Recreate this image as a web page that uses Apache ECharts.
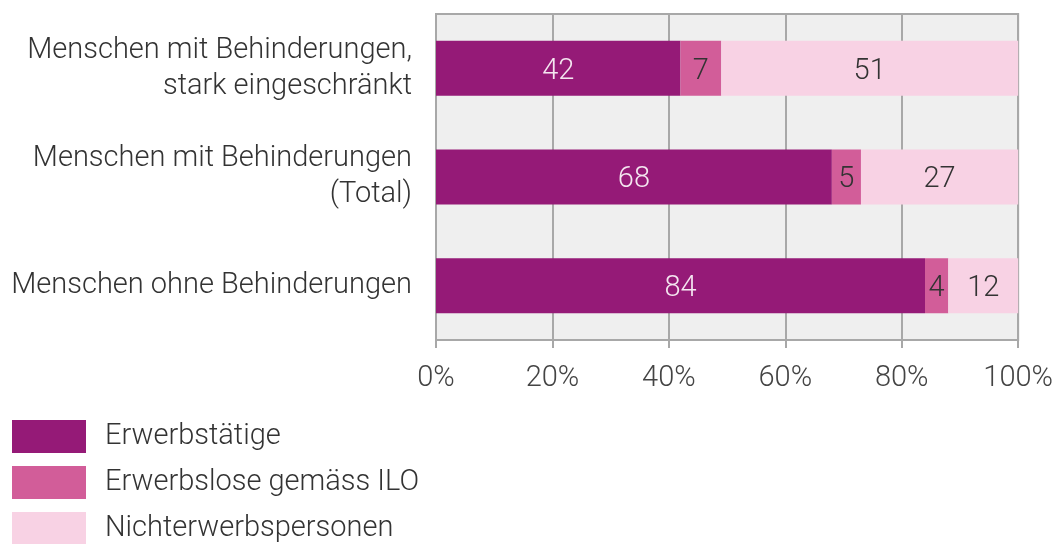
<!DOCTYPE html>
<html>
<head>
<meta charset="utf-8">
<script src="https://cdn.jsdelivr.net/npm/echarts@6/dist/echarts.min.js"></script>
<style>
html,body{margin:0;padding:0;background:#fff;}
#chart{width:1056px;height:544px;}
</style>
</head>
<body>
<div id="chart"></div>
<script>
var categories = ['Menschen mit Behinderungen,\nstark eingeschränkt', 'Menschen mit Behinderungen\n(Total)', 'Menschen ohne Behinderungen'];
var erwerbstaetige = [42, 68, 84];
var erwerbslose = [7, 5, 4];
var nichterwerb = [51, 27, 12];
var seriesNames = ['Erwerbstätige', 'Erwerbslose gemäss ILO', 'Nichterwerbspersonen'];
var colors = ['#951a77', '#d25d99', '#f8d2e4'];
var labelColors = ['#f4e6f0', '#333333', '#333333'];

var chart = echarts.init(document.getElementById('chart'));
var allData = [erwerbstaetige, erwerbslose, nichterwerb];
var series = [];
for (var i = 0; i < allData.length; i++) {
    series.push({
        name: seriesNames[i],
        type: 'bar',
        stack: 'total',
        barWidth: 55,
        data: allData[i],
        itemStyle: {color: colors[i]},
        label: {
            show: true,
            position: 'inside',
            offset: [0, 3],
            color: labelColors[i],
            fontFamily: 'Roboto',
            fontWeight: 300,
            fontSize: 29
        }
    });
}

chart.setOption({
    animation: false,
    textStyle: {fontFamily: 'Roboto'},
    grid: {
        left: 436, right: 35, top: 14, bottom: 204,
        show: true,
        backgroundColor: '#efefef',
        borderColor: '#a8a8a8',
        borderWidth: 2
    },
    legend: {
        orient: 'vertical',
        left: 12,
        top: 420,
        height: 140,
        padding: 0,
        itemWidth: 74,
        itemHeight: 33,
        itemGap: 13,
        icon: 'rect',
        selectedMode: false,
        data: seriesNames,
        textStyle: {
            fontFamily: 'Roboto',
            fontWeight: 300,
            fontSize: 29,
            color: '#333',
            padding: [8, 0, 0, 14]
        }
    },
    xAxis: {
        type: 'value',
        min: 0,
        max: 100,
        interval: 20,
        axisLine: {show: false},
        axisTick: {show: true, length: 8, lineStyle: {color: '#a8a8a8', width: 2}},
        splitLine: {show: true, lineStyle: {color: '#a8a8a8', width: 2}},
        axisLabel: {
            formatter: '{value}%',
            margin: 24,
            fontSize: 29,
            fontWeight: 300,
            color: '#444'
        }
    },
    yAxis: {
        type: 'category',
        inverse: true,
        data: categories,
        axisLine: {show: false},
        axisTick: {show: false},
        axisLabel: {
            margin: 24,
            fontSize: 29,
            fontWeight: 300,
            lineHeight: 36,
            color: '#333',
            align: 'right',
            padding: [10, 0, 0, 0]
        }
    },
    series: series
});
</script>
</body>
</html>
